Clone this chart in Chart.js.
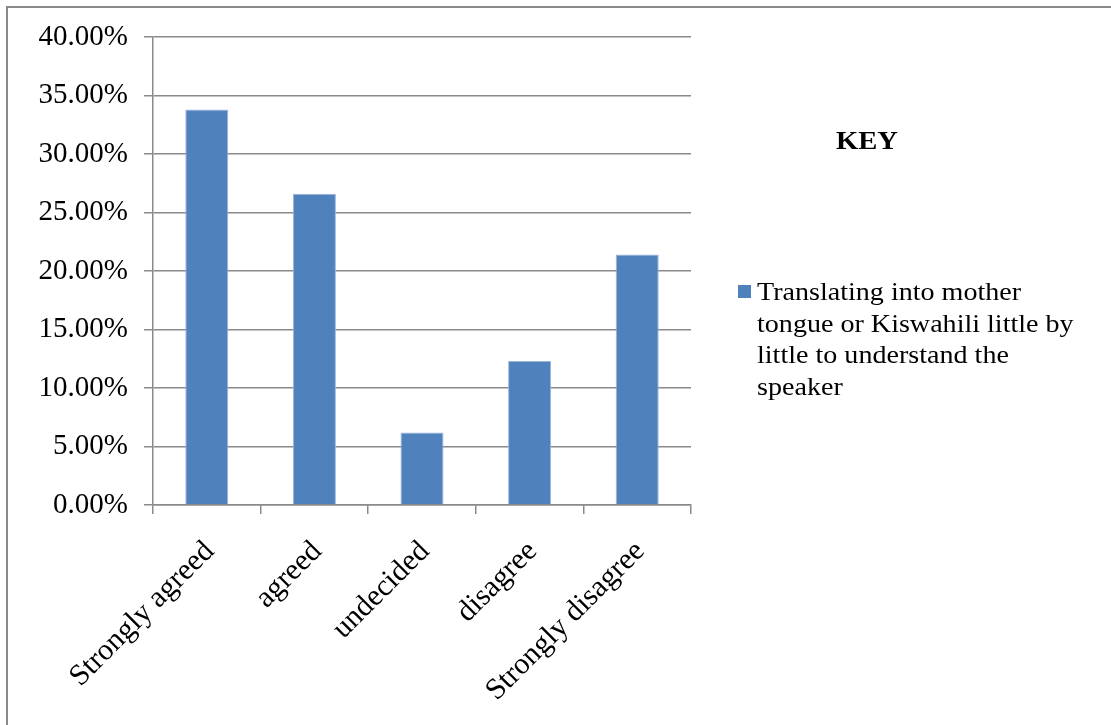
<!DOCTYPE html>
<html>
<head>
<meta charset="utf-8">
<script src="https://cdn.jsdelivr.net/npm/chart.js@4.4.1/dist/chart.umd.min.js"></script>
<style>
  html, body { margin: 0; padding: 0; background: #fff; overflow: hidden; }
  #wrap { position: relative; width: 1111px; height: 725px; overflow: hidden; }
  #frame { position: absolute; left: 6px; top: 6px; width: 1200px; height: 800px; border: 2px solid #8a8a8a; box-sizing: border-box; pointer-events: none; }
  canvas { position: absolute; left: 0; top: 0; }
  #key { position: absolute; left: 800px; top: 126px; width: 134px; text-align: center; font: bold 26px "Liberation Serif", "Times New Roman", serif; color: #000; transform: scaleX(1.1); }
  #legend { position: absolute; left: 738px; top: 276px; width: 400px; }
  #legend .box { position: absolute; left: 0; top: 9px; width: 13px; height: 13px; background: #4F81BD; }
  #legend .txt { position: absolute; left: 19px; top: 0; width: 305px; font: 26px "Liberation Serif", "Times New Roman", serif; line-height: 31.5px; color: #000; transform: scaleX(1.08); transform-origin: left top; }
</style>
</head>
<body>
<div id="wrap">
  <canvas id="c" width="1111" height="725"></canvas>
  <div id="frame"></div>
  <div id="key">KEY</div>
  <div id="legend"><div class="box"></div><div class="txt" id="legtxt"></div></div>
</div>
<script>
const categories = ["Strongly agreed", "agreed", "undecided", "disagree", "Strongly disagree"];
const seriesName = "Translating into mother tongue or Kiswahili little by little to understand the speaker";
const values = [33.8, 26.6, 6.2, 12.3, 21.4];
const yTicks = [0, 5, 10, 15, 20, 25, 30, 35, 40];

document.getElementById('legtxt').textContent = seriesName;

const serif = "'Liberation Serif', 'Times New Roman', serif";

new Chart(document.getElementById('c'), {
  type: 'bar',
  data: {
    labels: categories,
    datasets: [{
      label: seriesName,
      data: values,
      backgroundColor: '#4F81BD',
      borderColor: '#9DB5D9',
      borderWidth: 1,
      barPercentage: 0.8,
      categoryPercentage: 0.5
    }]
  },
  options: {
    responsive: false,
    animation: false,
    devicePixelRatio: 1,
    layout: { padding: { left: 0, top: 37, right: 420, bottom: 0 } },
    plugins: { legend: { display: false }, tooltip: { enabled: false } },
    scales: {
      x: {
        offset: true,
        grid: { display: true, offset: true, drawOnChartArea: false, drawTicks: true, tickLength: 9, color: '#8a8a8a', lineWidth: 1.5 },
        border: { display: true, color: '#8a8a8a', width: 1.5 },
        ticks: { minRotation: 45, maxRotation: 45, autoSkip: false, padding: 20, labelOffset: 3, color: '#000', font: { family: serif, size: 30 } },
        afterFit: (s) => { s.height = 220; }
      },
      y: {
        min: 0, max: 40,
        afterBuildTicks: (s) => { s.ticks = yTicks.map(v => ({ value: v })); },
        grid: { color: '#8a8a8a', lineWidth: 1.5, drawTicks: true, tickLength: 9 },
        border: { display: true, color: '#8a8a8a', width: 1.5 },
        ticks: { padding: 16, color: '#000', font: { family: serif, size: 29 }, callback: (v) => Number(v).toFixed(2) + '%' },
        afterFit: (s) => { s.width = 153; }
      }
    }
  }
});
</script>
</body>
</html>
